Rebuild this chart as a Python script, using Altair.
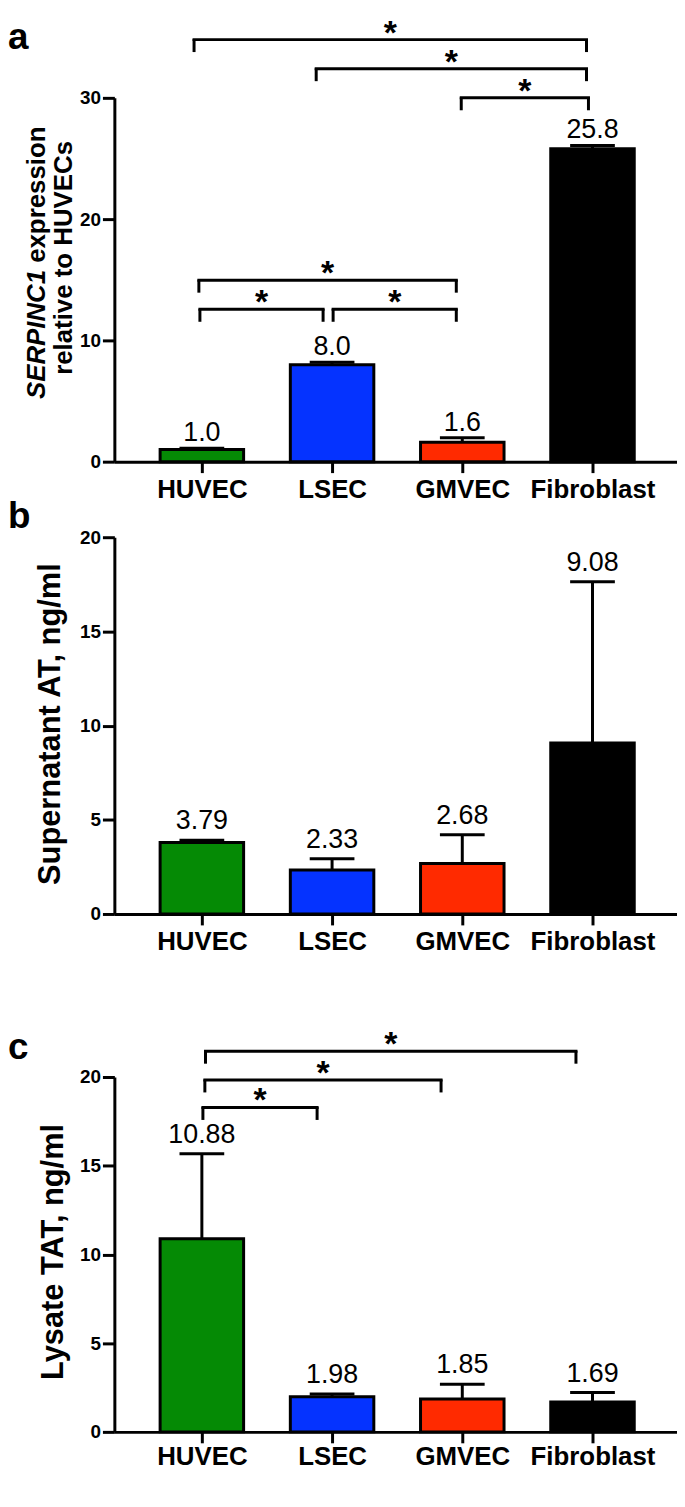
import altair as alt
import pandas as pd

FONT = "Liberation Sans"

categories = ["HUVEC", "LSEC", "GMVEC", "Fibroblast"]
positions = [0, 1, 2, 3]
bar_colors = ["#058a05", "#0533ff", "#ff2a00", "#000000"]

# panel a: SERPINC1 expression
a_mean = [1.0, 8.0, 1.6, 25.8]
a_err = [0.10, 0.20, 0.38, 0.28]
a_text = ["1.0", "8.0", "1.6", "25.8"]
a_br_x1 = [-0.06, 0.878, 1.992, -0.023, -0.015, 1.008]
a_br_x2 = [2.954, 2.954, 2.969, 1.954, 0.931, 1.954]
a_br_y = [34.8, 32.4, 30.0, 14.96, 12.56, 12.56]

# panel b: supernatant AT
b_mean = [3.79, 2.33, 2.68, 9.08]
b_err = [0.13, 0.60, 1.52, 8.56]
b_text = ["3.79", "2.33", "2.68", "9.08"]

# panel c: lysate TAT
c_mean = [10.88, 1.98, 1.85, 1.69]
c_err = [4.79, 0.16, 0.84, 0.53]
c_text = ["10.88", "1.98", "1.85", "1.69"]
c_br_x1 = [0.028, 0.023, 0.008]
c_br_x2 = [2.873, 1.837, 0.885]
c_br_y = [21.45, 19.83, 18.28]

X_DOMAIN = [-0.672, 3.649]
PLOT_W = 566
label_expr = "[" + ",".join(f"'{c}'" for c in categories) + "][datum.value]"


def note(text, x, y, size, angle=0, align="left", style="normal", baseline="alphabetic"):
    return alt.Chart(pd.DataFrame({"n": [0]})).mark_text(
        text=text, font=FONT, fontSize=size, fontWeight="bold", fontStyle=style,
        angle=angle, align=align, baseline=baseline, color="black"
    ).encode(x=alt.value(x), y=alt.value(y))


def make_panel(mean, err, text, y_max, y_step, height, br_x1, br_x2, br_y,
               value_dy, x_label_pad, extras):
    df = pd.DataFrame({
        "cat": categories, "pos": positions, "mean": mean,
        "top": [m + e for m, e in zip(mean, err)], "txt": text, "color": bar_colors,
    })
    xs = alt.Scale(domain=X_DOMAIN, nice=False, zero=False, padding=0)
    ys = alt.Scale(domain=[0, y_max], nice=False, zero=True, padding=0)
    x_axis = alt.Axis(values=positions, labelExpr=label_expr, title=None,
                      labelFontSize=26, labelPadding=x_label_pad, tickSize=11,
                      labelFlush=False, labelOverlap=False, grid=False)
    y_axis = alt.Axis(values=list(range(0, y_max + 1, y_step)), title=None,
                      labelFontSize=19, labelPadding=2, tickSize=12, format="d",
                      labelFlush=False, grid=False)

    def X(f):
        return alt.X(f"{f}:Q", scale=xs, axis=x_axis)

    def Y(f):
        return alt.Y(f"{f}:Q", scale=ys, axis=y_axis)

    base = alt.Chart(df)
    bars = base.mark_bar(orient="vertical", width=84, stroke="black",
                         strokeWidth=3, opacity=1).encode(
        x=X("pos"), y=Y("mean"),
        fill=alt.Fill("color:N", scale=None, legend=None))
    err_rule = base.mark_rule(strokeWidth=3, color="black").encode(
        x=X("pos"), y=Y("mean"), y2="top:Q")
    caps = base.mark_tick(orient="horizontal", size=45, thickness=3,
                          color="black", opacity=1).encode(x=X("pos"), y=Y("top"))
    labels = base.mark_text(font=FONT, fontSize=27, baseline="alphabetic",
                            dy=value_dy, color="black").encode(
        x=X("pos"), y=Y("top"), text="txt:N")
    layers = [bars, err_rule, caps, labels]

    if br_x1:
        bdf = pd.DataFrame({"x1": br_x1, "x2": br_x2, "by": br_y})
        bb = alt.Chart(bdf)
        hline = bb.mark_rule(strokeWidth=3, color="black", strokeCap="square").encode(
            x=X("x1"), x2="x2:Q", y=Y("by"))
        drops = bb.transform_fold(["x1", "x2"], as_=["end", "dx"]).mark_tick(
            orient="vertical", size=13, thickness=3, yOffset=6, color="black",
            opacity=1).encode(x=X("dx"), y=Y("by"))
        stars = bb.transform_calculate(mid="(datum.x1 + datum.x2) / 2").mark_text(
            text="*", font=FONT, fontSize=34, fontWeight="bold", baseline="top",
            dy=-23, color="black").encode(x=X("mid"), y=Y("by"))
        layers += [hline, drops, stars]

    layers += extras
    return alt.layer(*layers).properties(width=PLOT_W, height=height)


panel_a = make_panel(
    a_mean, a_err, a_text, 30, 10, 366, a_br_x1, a_br_x2, a_br_y, -7, 4,
    [note("a", -107, -49, 37),
     note("SERPINC1", -70, 303, 26, angle=270, style="italic"),
     note("expression", -70, 166, 26, angle=270),
     note("relative to HUVECs", -43, 161, 26, angle=270, align="center")])

panel_b = make_panel(
    b_mean, b_err, b_text, 20, 5, 379, [], [], [], -11, 4,
    [note("b", -107, -9, 37),
     note("Supernatant AT, ng/ml", -55, 188, 31, angle=270, align="center")])

panel_c = make_panel(
    c_mean, c_err, c_text, 20, 5, 357, c_br_x1, c_br_x2, c_br_y, -11, 1,
    [note("c", -107, -18, 37),
     note("Lysate TAT, ng/ml", -52, 176, 31, angle=270, align="center")])

inner = alt.vconcat(panel_b, panel_c, spacing=164, bounds="flush").resolve_scale(
    x="independent", y="independent")

chart = alt.vconcat(panel_a, inner, spacing=76, bounds="flush").resolve_scale(
    x="independent", y="independent"
).configure_view(stroke=None).configure_axis(
    domainColor="black", domainWidth=3, tickColor="black", tickWidth=3,
    labelColor="black", labelFont=FONT, labelFontWeight="bold"
).properties(padding={"top": 4, "left": 0, "right": 0, "bottom": 0})

chart.save("out.html", embed_options={"renderer": "svg", "actions": False})
